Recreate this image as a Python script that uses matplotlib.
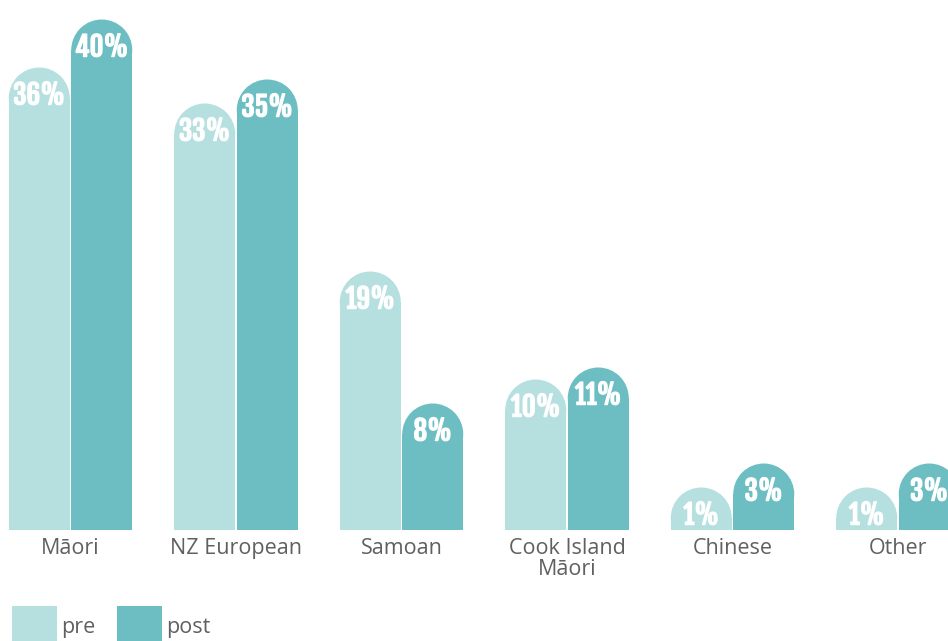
import matplotlib
matplotlib.use("Agg")
import matplotlib.pyplot as plt
from matplotlib.patches import Ellipse, Rectangle
import matplotlib.patheffects as pe

categories = ["Māori", "NZ European", "Samoan", "Cook Island\nMāori", "Chinese", "Other"]
pre = [36, 33, 19, 10, 1, 1]
post = [40, 35, 8, 11, 3, 3]
series_names = ["pre", "post"]

PRE_C = "#b6dfe0"
POST_C = "#6cbec3"
TXT_C = "#606060"

LBL_FAMILY = ["Fjalla One", "Oswald", "DejaVu Sans"]
CAT_FAMILY = ["Open Sans", "DejaVu Sans"]

W, H = 948, 641
fig = plt.figure(figsize=(W / 100, H / 100), dpi=100)
base_px = 530
ax = fig.add_axes([0, (H - base_px) / H, 1, base_px / H])
ax.set_axis_off()

px_per_x = 165.5
x0_px = 70.5
ax.set_xlim(-x0_px / px_per_x, (W - x0_px) / px_per_x)
px_per_y = 12.0
ax.set_ylim(0, base_px / px_per_y)

bw = 61 / px_per_x
gap = 1.5 / px_per_x
r_y = 30.5 / px_per_y

for i in range(len(categories)):
    for vals, color, sign in ((pre, PRE_C, -1), (post, POST_C, 1)):
        v = vals[i]
        xc = i + sign * (bw / 2 + gap / 2)
        ax.bar(xc, v, width=bw, color=color, linewidth=0)
        ax.add_patch(Ellipse((xc, v), bw, 2 * r_y, facecolor=color, linewidth=0))
        ax.text(xc, v + 0.2, f"{v}%", ha="center", va="center", color="white",
                fontsize=19.5, family=LBL_FAMILY,
                path_effects=[pe.withStroke(linewidth=0.9, foreground="white")])

# category labels (figure coords below baseline)
for i, c in enumerate(categories):
    xpx = x0_px + i * px_per_x
    fig.text(xpx / W, 1 - 538 / H, c, ha="center", va="top", color=TXT_C,
             fontsize=15.5, family=CAT_FAMILY, linespacing=1.02)

# legend
for name, color, xpx in zip(series_names, (PRE_C, POST_C), (12, 117)):
    fig.add_artist(Rectangle((xpx / W, 0), 45 / W, 35 / H, transform=fig.transFigure,
                             facecolor=color, linewidth=0))
    fig.text((xpx + 49) / W, 1 - 628 / H, name, ha="left", va="center", color=TXT_C,
             fontsize=15.5, family=CAT_FAMILY)

fig.savefig("out.png", dpi=100)
